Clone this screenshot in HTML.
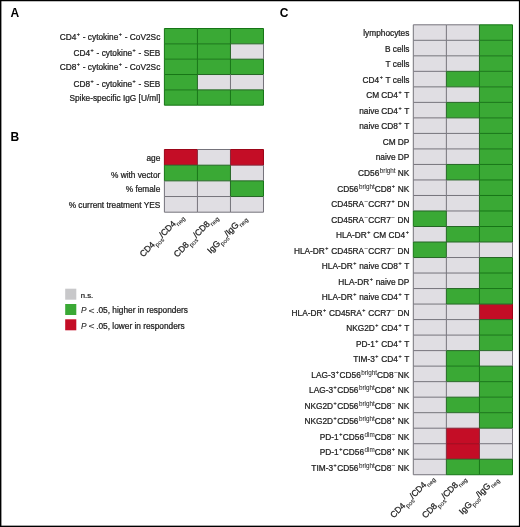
<!DOCTYPE html>
<html><head><meta charset="utf-8"><style>
html,body{margin:0;padding:0;background:#fff;}
body{width:520px;height:527px;overflow:hidden;}
svg{display:block;will-change:transform;}
text{font-family:"Liberation Sans", sans-serif;font-size:8.3px;fill:#1c1c1c;stroke:#1c1c1c;stroke-width:0.24px;}
text.cl{font-size:8.7px;}
text.pl{font-weight:bold;font-size:12px;fill:#000;stroke:none;}
tspan.sup{font-size:6.2px;baseline-shift:2.9px;stroke-width:0.1px;}
tspan.sc{font-size:6.4px;stroke-width:0.15px;}
tspan.sp{font-size:5.4px;letter-spacing:0.55px;stroke-width:0.2px;baseline-shift:3.6px;}
tspan.sw{font-size:6.3px;stroke-width:0.04px;}
tspan.sub{font-size:6.1px;baseline-shift:-3.2px;stroke-width:0.08px;}
line{stroke-width:1;}/*rgba(0,0,0,0.55)*/
</style></head><body>
<svg width="520" height="527" viewBox="0 0 520 527">
<rect x="0" y="0" width="520" height="527" fill="#fff"/>
<rect x="164.40" y="28.50" width="33.03" height="15.34" fill="#3aa935"/>
<rect x="197.43" y="28.50" width="33.03" height="15.34" fill="#3aa935"/>
<rect x="230.46" y="28.50" width="33.03" height="15.34" fill="#3aa935"/>
<text x="160.30" y="39.67" text-anchor="end">CD4<tspan class="sup sp" dx="0.5">+</tspan><tspan class="rs"></tspan> - cytokine<tspan class="sup sp" dx="0.5">+</tspan><tspan class="rs"></tspan> - CoV2Sc</text>
<rect x="164.40" y="43.84" width="33.03" height="15.34" fill="#3aa935"/>
<rect x="197.43" y="43.84" width="33.03" height="15.34" fill="#3aa935"/>
<rect x="230.46" y="43.84" width="33.03" height="15.34" fill="#e0dee3"/>
<text x="160.30" y="56.21" text-anchor="end">CD4<tspan class="sup sp" dx="0.5">+</tspan><tspan class="rs"></tspan> - cytokine<tspan class="sup sp" dx="0.5">+</tspan><tspan class="rs"></tspan> - SEB</text>
<rect x="164.40" y="59.18" width="33.03" height="15.34" fill="#3aa935"/>
<rect x="197.43" y="59.18" width="33.03" height="15.34" fill="#3aa935"/>
<rect x="230.46" y="59.18" width="33.03" height="15.34" fill="#3aa935"/>
<text x="160.30" y="70.45" text-anchor="end">CD8<tspan class="sup sp" dx="0.5">+</tspan><tspan class="rs"></tspan> - cytokine<tspan class="sup sp" dx="0.5">+</tspan><tspan class="rs"></tspan> - CoV2Sc</text>
<rect x="164.40" y="74.52" width="33.03" height="15.34" fill="#3aa935"/>
<rect x="197.43" y="74.52" width="33.03" height="15.34" fill="#e0dee3"/>
<rect x="230.46" y="74.52" width="33.03" height="15.34" fill="#e0dee3"/>
<text x="160.30" y="86.89" text-anchor="end">CD8<tspan class="sup sp" dx="0.5">+</tspan><tspan class="rs"></tspan> - cytokine<tspan class="sup sp" dx="0.5">+</tspan><tspan class="rs"></tspan> - SEB</text>
<rect x="164.40" y="89.86" width="33.03" height="15.34" fill="#3aa935"/>
<rect x="197.43" y="89.86" width="33.03" height="15.34" fill="#3aa935"/>
<rect x="230.46" y="89.86" width="33.03" height="15.34" fill="#3aa935"/>
<text x="160.30" y="101.43" text-anchor="end">Spike-specific IgG [U/ml]</text>
<line x1="164.40" y1="28.50" x2="197.43" y2="28.50" stroke="#167516"/>
<line x1="197.43" y1="28.50" x2="230.46" y2="28.50" stroke="#167516"/>
<line x1="230.46" y1="28.50" x2="263.49" y2="28.50" stroke="#167516"/>
<line x1="164.40" y1="43.84" x2="197.43" y2="43.84" stroke="#167516"/>
<line x1="197.43" y1="43.84" x2="230.46" y2="43.84" stroke="#167516"/>
<line x1="230.46" y1="43.84" x2="263.49" y2="43.84" stroke="#256525"/>
<line x1="164.40" y1="59.18" x2="197.43" y2="59.18" stroke="#167516"/>
<line x1="197.43" y1="59.18" x2="230.46" y2="59.18" stroke="#167516"/>
<line x1="230.46" y1="59.18" x2="263.49" y2="59.18" stroke="#256525"/>
<line x1="164.40" y1="74.52" x2="197.43" y2="74.52" stroke="#167516"/>
<line x1="197.43" y1="74.52" x2="230.46" y2="74.52" stroke="#256525"/>
<line x1="230.46" y1="74.52" x2="263.49" y2="74.52" stroke="#256525"/>
<line x1="164.40" y1="89.86" x2="197.43" y2="89.86" stroke="#167516"/>
<line x1="197.43" y1="89.86" x2="230.46" y2="89.86" stroke="#256525"/>
<line x1="230.46" y1="89.86" x2="263.49" y2="89.86" stroke="#256525"/>
<line x1="164.40" y1="105.20" x2="197.43" y2="105.20" stroke="#167516"/>
<line x1="197.43" y1="105.20" x2="230.46" y2="105.20" stroke="#167516"/>
<line x1="230.46" y1="105.20" x2="263.49" y2="105.20" stroke="#167516"/>
<line x1="164.40" y1="28.50" x2="164.40" y2="43.84" stroke="#167516"/>
<line x1="164.40" y1="43.84" x2="164.40" y2="59.18" stroke="#167516"/>
<line x1="164.40" y1="59.18" x2="164.40" y2="74.52" stroke="#167516"/>
<line x1="164.40" y1="74.52" x2="164.40" y2="89.86" stroke="#167516"/>
<line x1="164.40" y1="89.86" x2="164.40" y2="105.20" stroke="#167516"/>
<line x1="197.43" y1="28.50" x2="197.43" y2="43.84" stroke="#167516"/>
<line x1="197.43" y1="43.84" x2="197.43" y2="59.18" stroke="#167516"/>
<line x1="197.43" y1="59.18" x2="197.43" y2="74.52" stroke="#167516"/>
<line x1="197.43" y1="74.52" x2="197.43" y2="89.86" stroke="#256525"/>
<line x1="197.43" y1="89.86" x2="197.43" y2="105.20" stroke="#167516"/>
<line x1="230.46" y1="28.50" x2="230.46" y2="43.84" stroke="#167516"/>
<line x1="230.46" y1="43.84" x2="230.46" y2="59.18" stroke="#256525"/>
<line x1="230.46" y1="59.18" x2="230.46" y2="74.52" stroke="#167516"/>
<line x1="230.46" y1="74.52" x2="230.46" y2="89.86" stroke="#75737b"/>
<line x1="230.46" y1="89.86" x2="230.46" y2="105.20" stroke="#167516"/>
<line x1="263.49" y1="28.50" x2="263.49" y2="43.84" stroke="#167516"/>
<line x1="263.49" y1="43.84" x2="263.49" y2="59.18" stroke="#75737b"/>
<line x1="263.49" y1="59.18" x2="263.49" y2="74.52" stroke="#167516"/>
<line x1="263.49" y1="74.52" x2="263.49" y2="89.86" stroke="#75737b"/>
<line x1="263.49" y1="89.86" x2="263.49" y2="105.20" stroke="#167516"/>
<rect x="164.40" y="149.50" width="33.03" height="15.68" fill="#c40d26"/>
<rect x="197.43" y="149.50" width="33.03" height="15.68" fill="#e0dee3"/>
<rect x="230.46" y="149.50" width="33.03" height="15.68" fill="#c40d26"/>
<text x="160.30" y="160.64" text-anchor="end">age</text>
<rect x="164.40" y="165.18" width="33.03" height="15.68" fill="#3aa935"/>
<rect x="197.43" y="165.18" width="33.03" height="15.68" fill="#3aa935"/>
<rect x="230.46" y="165.18" width="33.03" height="15.68" fill="#e0dee3"/>
<text x="160.30" y="177.91" text-anchor="end">% with vector</text>
<rect x="164.40" y="180.85" width="33.03" height="15.68" fill="#e0dee3"/>
<rect x="197.43" y="180.85" width="33.03" height="15.68" fill="#e0dee3"/>
<rect x="230.46" y="180.85" width="33.03" height="15.68" fill="#3aa935"/>
<text x="160.30" y="191.99" text-anchor="end">% female</text>
<rect x="164.40" y="196.53" width="33.03" height="15.68" fill="#e0dee3"/>
<rect x="197.43" y="196.53" width="33.03" height="15.68" fill="#e0dee3"/>
<rect x="230.46" y="196.53" width="33.03" height="15.68" fill="#e0dee3"/>
<text x="160.30" y="207.66" text-anchor="end">% current treatment YES</text>
<line x1="164.40" y1="149.50" x2="197.43" y2="149.50" stroke="#9c0418"/>
<line x1="197.43" y1="149.50" x2="230.46" y2="149.50" stroke="#75737b"/>
<line x1="230.46" y1="149.50" x2="263.49" y2="149.50" stroke="#9c0418"/>
<line x1="164.40" y1="165.18" x2="197.43" y2="165.18" stroke="#256525"/>
<line x1="197.43" y1="165.18" x2="230.46" y2="165.18" stroke="#256525"/>
<line x1="230.46" y1="165.18" x2="263.49" y2="165.18" stroke="#85283a"/>
<line x1="164.40" y1="180.85" x2="197.43" y2="180.85" stroke="#256525"/>
<line x1="197.43" y1="180.85" x2="230.46" y2="180.85" stroke="#256525"/>
<line x1="230.46" y1="180.85" x2="263.49" y2="180.85" stroke="#256525"/>
<line x1="164.40" y1="196.53" x2="197.43" y2="196.53" stroke="#75737b"/>
<line x1="197.43" y1="196.53" x2="230.46" y2="196.53" stroke="#75737b"/>
<line x1="230.46" y1="196.53" x2="263.49" y2="196.53" stroke="#256525"/>
<line x1="164.40" y1="212.20" x2="197.43" y2="212.20" stroke="#75737b"/>
<line x1="197.43" y1="212.20" x2="230.46" y2="212.20" stroke="#75737b"/>
<line x1="230.46" y1="212.20" x2="263.49" y2="212.20" stroke="#75737b"/>
<line x1="164.40" y1="149.50" x2="164.40" y2="165.18" stroke="#9c0418"/>
<line x1="164.40" y1="165.18" x2="164.40" y2="180.85" stroke="#167516"/>
<line x1="164.40" y1="180.85" x2="164.40" y2="196.53" stroke="#75737b"/>
<line x1="164.40" y1="196.53" x2="164.40" y2="212.20" stroke="#75737b"/>
<line x1="197.43" y1="149.50" x2="197.43" y2="165.18" stroke="#85283a"/>
<line x1="197.43" y1="165.18" x2="197.43" y2="180.85" stroke="#167516"/>
<line x1="197.43" y1="180.85" x2="197.43" y2="196.53" stroke="#75737b"/>
<line x1="197.43" y1="196.53" x2="197.43" y2="212.20" stroke="#75737b"/>
<line x1="230.46" y1="149.50" x2="230.46" y2="165.18" stroke="#85283a"/>
<line x1="230.46" y1="165.18" x2="230.46" y2="180.85" stroke="#256525"/>
<line x1="230.46" y1="180.85" x2="230.46" y2="196.53" stroke="#256525"/>
<line x1="230.46" y1="196.53" x2="230.46" y2="212.20" stroke="#75737b"/>
<line x1="263.49" y1="149.50" x2="263.49" y2="165.18" stroke="#9c0418"/>
<line x1="263.49" y1="165.18" x2="263.49" y2="180.85" stroke="#75737b"/>
<line x1="263.49" y1="180.85" x2="263.49" y2="196.53" stroke="#167516"/>
<line x1="263.49" y1="196.53" x2="263.49" y2="212.20" stroke="#75737b"/>
<rect x="413.30" y="24.80" width="33.07" height="15.52" fill="#e0dee3"/>
<rect x="446.37" y="24.80" width="33.07" height="15.52" fill="#e0dee3"/>
<rect x="479.44" y="24.80" width="33.07" height="15.52" fill="#3aa935"/>
<text x="409.40" y="36.36" text-anchor="end">lymphocytes</text>
<rect x="413.30" y="40.31" width="33.07" height="15.52" fill="#e0dee3"/>
<rect x="446.37" y="40.31" width="33.07" height="15.52" fill="#e0dee3"/>
<rect x="479.44" y="40.31" width="33.07" height="15.52" fill="#3aa935"/>
<text x="409.40" y="51.87" text-anchor="end">B cells</text>
<rect x="413.30" y="55.83" width="33.07" height="15.52" fill="#e0dee3"/>
<rect x="446.37" y="55.83" width="33.07" height="15.52" fill="#e0dee3"/>
<rect x="479.44" y="55.83" width="33.07" height="15.52" fill="#3aa935"/>
<text x="409.40" y="67.39" text-anchor="end">T cells</text>
<rect x="413.30" y="71.34" width="33.07" height="15.52" fill="#e0dee3"/>
<rect x="446.37" y="71.34" width="33.07" height="15.52" fill="#3aa935"/>
<rect x="479.44" y="71.34" width="33.07" height="15.52" fill="#3aa935"/>
<text x="409.40" y="82.90" text-anchor="end">CD4<tspan class="sup sp" dx="0.5">+</tspan><tspan class="rs"></tspan> T cells</text>
<rect x="413.30" y="86.86" width="33.07" height="15.52" fill="#e0dee3"/>
<rect x="446.37" y="86.86" width="33.07" height="15.52" fill="#e0dee3"/>
<rect x="479.44" y="86.86" width="33.07" height="15.52" fill="#3aa935"/>
<text x="409.40" y="98.42" text-anchor="end">CM CD4<tspan class="sup sp" dx="0.5">+</tspan><tspan class="rs"></tspan> T</text>
<rect x="413.30" y="102.38" width="33.07" height="15.52" fill="#e0dee3"/>
<rect x="446.37" y="102.38" width="33.07" height="15.52" fill="#3aa935"/>
<rect x="479.44" y="102.38" width="33.07" height="15.52" fill="#3aa935"/>
<text x="409.40" y="113.93" text-anchor="end">naive CD4<tspan class="sup sp" dx="0.5">+</tspan><tspan class="rs"></tspan> T</text>
<rect x="413.30" y="117.89" width="33.07" height="15.52" fill="#e0dee3"/>
<rect x="446.37" y="117.89" width="33.07" height="15.52" fill="#e0dee3"/>
<rect x="479.44" y="117.89" width="33.07" height="15.52" fill="#3aa935"/>
<text x="409.40" y="129.45" text-anchor="end">naive CD8<tspan class="sup sp" dx="0.5">+</tspan><tspan class="rs"></tspan> T</text>
<rect x="413.30" y="133.41" width="33.07" height="15.52" fill="#e0dee3"/>
<rect x="446.37" y="133.41" width="33.07" height="15.52" fill="#e0dee3"/>
<rect x="479.44" y="133.41" width="33.07" height="15.52" fill="#3aa935"/>
<text x="409.40" y="144.96" text-anchor="end">CM DP</text>
<rect x="413.30" y="148.92" width="33.07" height="15.52" fill="#e0dee3"/>
<rect x="446.37" y="148.92" width="33.07" height="15.52" fill="#e0dee3"/>
<rect x="479.44" y="148.92" width="33.07" height="15.52" fill="#3aa935"/>
<text x="409.40" y="160.48" text-anchor="end">naive DP</text>
<rect x="413.30" y="164.44" width="33.07" height="15.52" fill="#e0dee3"/>
<rect x="446.37" y="164.44" width="33.07" height="15.52" fill="#3aa935"/>
<rect x="479.44" y="164.44" width="33.07" height="15.52" fill="#3aa935"/>
<text x="409.40" y="175.99" text-anchor="end">CD56<tspan class="sup sw" dx="0.5">bright</tspan><tspan class="rs"></tspan> NK</text>
<rect x="413.30" y="179.95" width="33.07" height="15.52" fill="#e0dee3"/>
<rect x="446.37" y="179.95" width="33.07" height="15.52" fill="#e0dee3"/>
<rect x="479.44" y="179.95" width="33.07" height="15.52" fill="#3aa935"/>
<text x="409.40" y="191.51" text-anchor="end">CD56<tspan class="sup sw" dx="0.5">bright</tspan><tspan class="rs"></tspan>CD8<tspan class="sup sp" dx="0.5">+</tspan><tspan class="rs"></tspan> NK</text>
<rect x="413.30" y="195.47" width="33.07" height="15.52" fill="#e0dee3"/>
<rect x="446.37" y="195.47" width="33.07" height="15.52" fill="#e0dee3"/>
<rect x="479.44" y="195.47" width="33.07" height="15.52" fill="#3aa935"/>
<text x="409.40" y="207.02" text-anchor="end">CD45RA<tspan class="sup sc" dx="0.5">−</tspan><tspan class="rs"></tspan>CCR7<tspan class="sup sp" dx="0.5">+</tspan><tspan class="rs"></tspan> DN</text>
<rect x="413.30" y="210.98" width="33.07" height="15.52" fill="#3aa935"/>
<rect x="446.37" y="210.98" width="33.07" height="15.52" fill="#e0dee3"/>
<rect x="479.44" y="210.98" width="33.07" height="15.52" fill="#3aa935"/>
<text x="409.40" y="222.54" text-anchor="end">CD45RA<tspan class="sup sc" dx="0.5">−</tspan><tspan class="rs"></tspan>CCR7<tspan class="sup sc" dx="0.5">−</tspan><tspan class="rs"></tspan> DN</text>
<rect x="413.30" y="226.50" width="33.07" height="15.52" fill="#e0dee3"/>
<rect x="446.37" y="226.50" width="33.07" height="15.52" fill="#3aa935"/>
<rect x="479.44" y="226.50" width="33.07" height="15.52" fill="#3aa935"/>
<text x="409.40" y="238.05" text-anchor="end">HLA-DR<tspan class="sup sp" dx="0.5">+</tspan><tspan class="rs"></tspan> CM CD4<tspan class="sup sp" dx="0.5">+</tspan><tspan class="rs"></tspan></text>
<rect x="413.30" y="242.01" width="33.07" height="15.52" fill="#3aa935"/>
<rect x="446.37" y="242.01" width="33.07" height="15.52" fill="#e0dee3"/>
<rect x="479.44" y="242.01" width="33.07" height="15.52" fill="#e0dee3"/>
<text x="409.40" y="253.57" text-anchor="end">HLA-DR<tspan class="sup sp" dx="0.5">+</tspan><tspan class="rs"></tspan> CD45RA<tspan class="sup sc" dx="0.5">−</tspan><tspan class="rs"></tspan>CCR7<tspan class="sup sc" dx="0.5">−</tspan><tspan class="rs"></tspan> DN</text>
<rect x="413.30" y="257.53" width="33.07" height="15.52" fill="#e0dee3"/>
<rect x="446.37" y="257.53" width="33.07" height="15.52" fill="#e0dee3"/>
<rect x="479.44" y="257.53" width="33.07" height="15.52" fill="#3aa935"/>
<text x="409.40" y="269.08" text-anchor="end">HLA-DR<tspan class="sup sp" dx="0.5">+</tspan><tspan class="rs"></tspan> naive CD8<tspan class="sup sp" dx="0.5">+</tspan><tspan class="rs"></tspan> T</text>
<rect x="413.30" y="273.04" width="33.07" height="15.52" fill="#e0dee3"/>
<rect x="446.37" y="273.04" width="33.07" height="15.52" fill="#e0dee3"/>
<rect x="479.44" y="273.04" width="33.07" height="15.52" fill="#3aa935"/>
<text x="409.40" y="284.60" text-anchor="end">HLA-DR<tspan class="sup sp" dx="0.5">+</tspan><tspan class="rs"></tspan> naive DP</text>
<rect x="413.30" y="288.56" width="33.07" height="15.52" fill="#e0dee3"/>
<rect x="446.37" y="288.56" width="33.07" height="15.52" fill="#3aa935"/>
<rect x="479.44" y="288.56" width="33.07" height="15.52" fill="#3aa935"/>
<text x="409.40" y="300.11" text-anchor="end">HLA-DR<tspan class="sup sp" dx="0.5">+</tspan><tspan class="rs"></tspan> naive CD4<tspan class="sup sp" dx="0.5">+</tspan><tspan class="rs"></tspan> T</text>
<rect x="413.30" y="304.07" width="33.07" height="15.52" fill="#e0dee3"/>
<rect x="446.37" y="304.07" width="33.07" height="15.52" fill="#e0dee3"/>
<rect x="479.44" y="304.07" width="33.07" height="15.52" fill="#c40d26"/>
<text x="409.40" y="315.63" text-anchor="end">HLA-DR<tspan class="sup sp" dx="0.5">+</tspan><tspan class="rs"></tspan> CD45RA<tspan class="sup sp" dx="0.5">+</tspan><tspan class="rs"></tspan> CCR7<tspan class="sup sc" dx="0.5">−</tspan><tspan class="rs"></tspan> DN</text>
<rect x="413.30" y="319.59" width="33.07" height="15.52" fill="#e0dee3"/>
<rect x="446.37" y="319.59" width="33.07" height="15.52" fill="#e0dee3"/>
<rect x="479.44" y="319.59" width="33.07" height="15.52" fill="#3aa935"/>
<text x="409.40" y="331.14" text-anchor="end">NKG2D<tspan class="sup sp" dx="0.5">+</tspan><tspan class="rs"></tspan> CD4<tspan class="sup sp" dx="0.5">+</tspan><tspan class="rs"></tspan> T</text>
<rect x="413.30" y="335.10" width="33.07" height="15.52" fill="#e0dee3"/>
<rect x="446.37" y="335.10" width="33.07" height="15.52" fill="#e0dee3"/>
<rect x="479.44" y="335.10" width="33.07" height="15.52" fill="#3aa935"/>
<text x="409.40" y="346.66" text-anchor="end">PD-1<tspan class="sup sp" dx="0.5">+</tspan><tspan class="rs"></tspan> CD4<tspan class="sup sp" dx="0.5">+</tspan><tspan class="rs"></tspan> T</text>
<rect x="413.30" y="350.62" width="33.07" height="15.52" fill="#e0dee3"/>
<rect x="446.37" y="350.62" width="33.07" height="15.52" fill="#3aa935"/>
<rect x="479.44" y="350.62" width="33.07" height="15.52" fill="#e0dee3"/>
<text x="409.40" y="362.17" text-anchor="end">TIM-3<tspan class="sup sp" dx="0.5">+</tspan><tspan class="rs"></tspan> CD4<tspan class="sup sp" dx="0.5">+</tspan><tspan class="rs"></tspan> T</text>
<rect x="413.30" y="366.13" width="33.07" height="15.52" fill="#e0dee3"/>
<rect x="446.37" y="366.13" width="33.07" height="15.52" fill="#3aa935"/>
<rect x="479.44" y="366.13" width="33.07" height="15.52" fill="#3aa935"/>
<text x="409.40" y="377.69" text-anchor="end">LAG-3<tspan class="sup sp" dx="0.5">+</tspan><tspan class="rs"></tspan>CD56<tspan class="sup sw" dx="0.5">bright</tspan><tspan class="rs"></tspan>CD8<tspan class="sup sc" dx="0.5">−</tspan><tspan class="rs"></tspan>NK</text>
<rect x="413.30" y="381.65" width="33.07" height="15.52" fill="#e0dee3"/>
<rect x="446.37" y="381.65" width="33.07" height="15.52" fill="#e0dee3"/>
<rect x="479.44" y="381.65" width="33.07" height="15.52" fill="#3aa935"/>
<text x="409.40" y="393.20" text-anchor="end">LAG-3<tspan class="sup sp" dx="0.5">+</tspan><tspan class="rs"></tspan>CD56<tspan class="sup sw" dx="0.5">bright</tspan><tspan class="rs"></tspan>CD8<tspan class="sup sp" dx="0.5">+</tspan><tspan class="rs"></tspan> NK</text>
<rect x="413.30" y="397.16" width="33.07" height="15.52" fill="#e0dee3"/>
<rect x="446.37" y="397.16" width="33.07" height="15.52" fill="#3aa935"/>
<rect x="479.44" y="397.16" width="33.07" height="15.52" fill="#3aa935"/>
<text x="409.40" y="408.72" text-anchor="end">NKG2D<tspan class="sup sp" dx="0.5">+</tspan><tspan class="rs"></tspan>CD56<tspan class="sup sw" dx="0.5">bright</tspan><tspan class="rs"></tspan>CD8<tspan class="sup sc" dx="0.5">−</tspan><tspan class="rs"></tspan> NK</text>
<rect x="413.30" y="412.68" width="33.07" height="15.52" fill="#e0dee3"/>
<rect x="446.37" y="412.68" width="33.07" height="15.52" fill="#e0dee3"/>
<rect x="479.44" y="412.68" width="33.07" height="15.52" fill="#3aa935"/>
<text x="409.40" y="424.23" text-anchor="end">NKG2D<tspan class="sup sp" dx="0.5">+</tspan><tspan class="rs"></tspan>CD56<tspan class="sup sw" dx="0.5">bright</tspan><tspan class="rs"></tspan>CD8<tspan class="sup sp" dx="0.5">+</tspan><tspan class="rs"></tspan> NK</text>
<rect x="413.30" y="428.19" width="33.07" height="15.52" fill="#e0dee3"/>
<rect x="446.37" y="428.19" width="33.07" height="15.52" fill="#c40d26"/>
<rect x="479.44" y="428.19" width="33.07" height="15.52" fill="#e0dee3"/>
<text x="409.40" y="439.75" text-anchor="end">PD-1<tspan class="sup sp" dx="0.5">+</tspan><tspan class="rs"></tspan>CD56<tspan class="sup sw" dx="0.5">dim</tspan><tspan class="rs"></tspan>CD8<tspan class="sup sc" dx="0.5">−</tspan><tspan class="rs"></tspan> NK</text>
<rect x="413.30" y="443.71" width="33.07" height="15.52" fill="#e0dee3"/>
<rect x="446.37" y="443.71" width="33.07" height="15.52" fill="#c40d26"/>
<rect x="479.44" y="443.71" width="33.07" height="15.52" fill="#e0dee3"/>
<text x="409.40" y="455.26" text-anchor="end">PD-1<tspan class="sup sp" dx="0.5">+</tspan><tspan class="rs"></tspan>CD56<tspan class="sup sw" dx="0.5">dim</tspan><tspan class="rs"></tspan>CD8<tspan class="sup sp" dx="0.5">+</tspan><tspan class="rs"></tspan> NK</text>
<rect x="413.30" y="459.22" width="33.07" height="15.52" fill="#e0dee3"/>
<rect x="446.37" y="459.22" width="33.07" height="15.52" fill="#3aa935"/>
<rect x="479.44" y="459.22" width="33.07" height="15.52" fill="#3aa935"/>
<text x="409.40" y="470.78" text-anchor="end">TIM-3<tspan class="sup sp" dx="0.5">+</tspan><tspan class="rs"></tspan>CD56<tspan class="sup sw" dx="0.5">bright</tspan><tspan class="rs"></tspan>CD8<tspan class="sup sc" dx="0.5">−</tspan><tspan class="rs"></tspan> NK</text>
<line x1="413.30" y1="24.80" x2="446.37" y2="24.80" stroke="#75737b"/>
<line x1="446.37" y1="24.80" x2="479.44" y2="24.80" stroke="#75737b"/>
<line x1="479.44" y1="24.80" x2="512.51" y2="24.80" stroke="#167516"/>
<line x1="413.30" y1="40.31" x2="446.37" y2="40.31" stroke="#75737b"/>
<line x1="446.37" y1="40.31" x2="479.44" y2="40.31" stroke="#75737b"/>
<line x1="479.44" y1="40.31" x2="512.51" y2="40.31" stroke="#167516"/>
<line x1="413.30" y1="55.83" x2="446.37" y2="55.83" stroke="#75737b"/>
<line x1="446.37" y1="55.83" x2="479.44" y2="55.83" stroke="#75737b"/>
<line x1="479.44" y1="55.83" x2="512.51" y2="55.83" stroke="#167516"/>
<line x1="413.30" y1="71.34" x2="446.37" y2="71.34" stroke="#75737b"/>
<line x1="446.37" y1="71.34" x2="479.44" y2="71.34" stroke="#256525"/>
<line x1="479.44" y1="71.34" x2="512.51" y2="71.34" stroke="#167516"/>
<line x1="413.30" y1="86.86" x2="446.37" y2="86.86" stroke="#75737b"/>
<line x1="446.37" y1="86.86" x2="479.44" y2="86.86" stroke="#256525"/>
<line x1="479.44" y1="86.86" x2="512.51" y2="86.86" stroke="#167516"/>
<line x1="413.30" y1="102.38" x2="446.37" y2="102.38" stroke="#75737b"/>
<line x1="446.37" y1="102.38" x2="479.44" y2="102.38" stroke="#256525"/>
<line x1="479.44" y1="102.38" x2="512.51" y2="102.38" stroke="#167516"/>
<line x1="413.30" y1="117.89" x2="446.37" y2="117.89" stroke="#75737b"/>
<line x1="446.37" y1="117.89" x2="479.44" y2="117.89" stroke="#256525"/>
<line x1="479.44" y1="117.89" x2="512.51" y2="117.89" stroke="#167516"/>
<line x1="413.30" y1="133.41" x2="446.37" y2="133.41" stroke="#75737b"/>
<line x1="446.37" y1="133.41" x2="479.44" y2="133.41" stroke="#75737b"/>
<line x1="479.44" y1="133.41" x2="512.51" y2="133.41" stroke="#167516"/>
<line x1="413.30" y1="148.92" x2="446.37" y2="148.92" stroke="#75737b"/>
<line x1="446.37" y1="148.92" x2="479.44" y2="148.92" stroke="#75737b"/>
<line x1="479.44" y1="148.92" x2="512.51" y2="148.92" stroke="#167516"/>
<line x1="413.30" y1="164.44" x2="446.37" y2="164.44" stroke="#75737b"/>
<line x1="446.37" y1="164.44" x2="479.44" y2="164.44" stroke="#256525"/>
<line x1="479.44" y1="164.44" x2="512.51" y2="164.44" stroke="#167516"/>
<line x1="413.30" y1="179.95" x2="446.37" y2="179.95" stroke="#75737b"/>
<line x1="446.37" y1="179.95" x2="479.44" y2="179.95" stroke="#256525"/>
<line x1="479.44" y1="179.95" x2="512.51" y2="179.95" stroke="#167516"/>
<line x1="413.30" y1="195.47" x2="446.37" y2="195.47" stroke="#75737b"/>
<line x1="446.37" y1="195.47" x2="479.44" y2="195.47" stroke="#75737b"/>
<line x1="479.44" y1="195.47" x2="512.51" y2="195.47" stroke="#167516"/>
<line x1="413.30" y1="210.98" x2="446.37" y2="210.98" stroke="#256525"/>
<line x1="446.37" y1="210.98" x2="479.44" y2="210.98" stroke="#75737b"/>
<line x1="479.44" y1="210.98" x2="512.51" y2="210.98" stroke="#167516"/>
<line x1="413.30" y1="226.50" x2="446.37" y2="226.50" stroke="#256525"/>
<line x1="446.37" y1="226.50" x2="479.44" y2="226.50" stroke="#256525"/>
<line x1="479.44" y1="226.50" x2="512.51" y2="226.50" stroke="#167516"/>
<line x1="413.30" y1="242.01" x2="446.37" y2="242.01" stroke="#256525"/>
<line x1="446.37" y1="242.01" x2="479.44" y2="242.01" stroke="#256525"/>
<line x1="479.44" y1="242.01" x2="512.51" y2="242.01" stroke="#256525"/>
<line x1="413.30" y1="257.53" x2="446.37" y2="257.53" stroke="#256525"/>
<line x1="446.37" y1="257.53" x2="479.44" y2="257.53" stroke="#75737b"/>
<line x1="479.44" y1="257.53" x2="512.51" y2="257.53" stroke="#256525"/>
<line x1="413.30" y1="273.04" x2="446.37" y2="273.04" stroke="#75737b"/>
<line x1="446.37" y1="273.04" x2="479.44" y2="273.04" stroke="#75737b"/>
<line x1="479.44" y1="273.04" x2="512.51" y2="273.04" stroke="#167516"/>
<line x1="413.30" y1="288.56" x2="446.37" y2="288.56" stroke="#75737b"/>
<line x1="446.37" y1="288.56" x2="479.44" y2="288.56" stroke="#256525"/>
<line x1="479.44" y1="288.56" x2="512.51" y2="288.56" stroke="#167516"/>
<line x1="413.30" y1="304.07" x2="446.37" y2="304.07" stroke="#75737b"/>
<line x1="446.37" y1="304.07" x2="479.44" y2="304.07" stroke="#256525"/>
<line x1="479.44" y1="304.07" x2="512.51" y2="304.07" stroke="#256525"/>
<line x1="413.30" y1="319.59" x2="446.37" y2="319.59" stroke="#75737b"/>
<line x1="446.37" y1="319.59" x2="479.44" y2="319.59" stroke="#75737b"/>
<line x1="479.44" y1="319.59" x2="512.51" y2="319.59" stroke="#256525"/>
<line x1="413.30" y1="335.10" x2="446.37" y2="335.10" stroke="#75737b"/>
<line x1="446.37" y1="335.10" x2="479.44" y2="335.10" stroke="#75737b"/>
<line x1="479.44" y1="335.10" x2="512.51" y2="335.10" stroke="#167516"/>
<line x1="413.30" y1="350.62" x2="446.37" y2="350.62" stroke="#75737b"/>
<line x1="446.37" y1="350.62" x2="479.44" y2="350.62" stroke="#256525"/>
<line x1="479.44" y1="350.62" x2="512.51" y2="350.62" stroke="#256525"/>
<line x1="413.30" y1="366.13" x2="446.37" y2="366.13" stroke="#75737b"/>
<line x1="446.37" y1="366.13" x2="479.44" y2="366.13" stroke="#167516"/>
<line x1="479.44" y1="366.13" x2="512.51" y2="366.13" stroke="#256525"/>
<line x1="413.30" y1="381.65" x2="446.37" y2="381.65" stroke="#75737b"/>
<line x1="446.37" y1="381.65" x2="479.44" y2="381.65" stroke="#256525"/>
<line x1="479.44" y1="381.65" x2="512.51" y2="381.65" stroke="#167516"/>
<line x1="413.30" y1="397.16" x2="446.37" y2="397.16" stroke="#75737b"/>
<line x1="446.37" y1="397.16" x2="479.44" y2="397.16" stroke="#256525"/>
<line x1="479.44" y1="397.16" x2="512.51" y2="397.16" stroke="#167516"/>
<line x1="413.30" y1="412.68" x2="446.37" y2="412.68" stroke="#75737b"/>
<line x1="446.37" y1="412.68" x2="479.44" y2="412.68" stroke="#256525"/>
<line x1="479.44" y1="412.68" x2="512.51" y2="412.68" stroke="#167516"/>
<line x1="413.30" y1="428.19" x2="446.37" y2="428.19" stroke="#75737b"/>
<line x1="446.37" y1="428.19" x2="479.44" y2="428.19" stroke="#85283a"/>
<line x1="479.44" y1="428.19" x2="512.51" y2="428.19" stroke="#256525"/>
<line x1="413.30" y1="443.71" x2="446.37" y2="443.71" stroke="#75737b"/>
<line x1="446.37" y1="443.71" x2="479.44" y2="443.71" stroke="#9c0418"/>
<line x1="479.44" y1="443.71" x2="512.51" y2="443.71" stroke="#75737b"/>
<line x1="413.30" y1="459.22" x2="446.37" y2="459.22" stroke="#75737b"/>
<line x1="446.37" y1="459.22" x2="479.44" y2="459.22" stroke="#256525"/>
<line x1="479.44" y1="459.22" x2="512.51" y2="459.22" stroke="#256525"/>
<line x1="413.30" y1="474.74" x2="446.37" y2="474.74" stroke="#75737b"/>
<line x1="446.37" y1="474.74" x2="479.44" y2="474.74" stroke="#167516"/>
<line x1="479.44" y1="474.74" x2="512.51" y2="474.74" stroke="#167516"/>
<line x1="413.30" y1="24.80" x2="413.30" y2="40.31" stroke="#75737b"/>
<line x1="413.30" y1="40.31" x2="413.30" y2="55.83" stroke="#75737b"/>
<line x1="413.30" y1="55.83" x2="413.30" y2="71.34" stroke="#75737b"/>
<line x1="413.30" y1="71.34" x2="413.30" y2="86.86" stroke="#75737b"/>
<line x1="413.30" y1="86.86" x2="413.30" y2="102.38" stroke="#75737b"/>
<line x1="413.30" y1="102.38" x2="413.30" y2="117.89" stroke="#75737b"/>
<line x1="413.30" y1="117.89" x2="413.30" y2="133.41" stroke="#75737b"/>
<line x1="413.30" y1="133.41" x2="413.30" y2="148.92" stroke="#75737b"/>
<line x1="413.30" y1="148.92" x2="413.30" y2="164.44" stroke="#75737b"/>
<line x1="413.30" y1="164.44" x2="413.30" y2="179.95" stroke="#75737b"/>
<line x1="413.30" y1="179.95" x2="413.30" y2="195.47" stroke="#75737b"/>
<line x1="413.30" y1="195.47" x2="413.30" y2="210.98" stroke="#75737b"/>
<line x1="413.30" y1="210.98" x2="413.30" y2="226.50" stroke="#167516"/>
<line x1="413.30" y1="226.50" x2="413.30" y2="242.01" stroke="#75737b"/>
<line x1="413.30" y1="242.01" x2="413.30" y2="257.53" stroke="#167516"/>
<line x1="413.30" y1="257.53" x2="413.30" y2="273.04" stroke="#75737b"/>
<line x1="413.30" y1="273.04" x2="413.30" y2="288.56" stroke="#75737b"/>
<line x1="413.30" y1="288.56" x2="413.30" y2="304.07" stroke="#75737b"/>
<line x1="413.30" y1="304.07" x2="413.30" y2="319.59" stroke="#75737b"/>
<line x1="413.30" y1="319.59" x2="413.30" y2="335.10" stroke="#75737b"/>
<line x1="413.30" y1="335.10" x2="413.30" y2="350.62" stroke="#75737b"/>
<line x1="413.30" y1="350.62" x2="413.30" y2="366.13" stroke="#75737b"/>
<line x1="413.30" y1="366.13" x2="413.30" y2="381.65" stroke="#75737b"/>
<line x1="413.30" y1="381.65" x2="413.30" y2="397.16" stroke="#75737b"/>
<line x1="413.30" y1="397.16" x2="413.30" y2="412.68" stroke="#75737b"/>
<line x1="413.30" y1="412.68" x2="413.30" y2="428.19" stroke="#75737b"/>
<line x1="413.30" y1="428.19" x2="413.30" y2="443.71" stroke="#75737b"/>
<line x1="413.30" y1="443.71" x2="413.30" y2="459.22" stroke="#75737b"/>
<line x1="413.30" y1="459.22" x2="413.30" y2="474.74" stroke="#75737b"/>
<line x1="446.37" y1="24.80" x2="446.37" y2="40.31" stroke="#75737b"/>
<line x1="446.37" y1="40.31" x2="446.37" y2="55.83" stroke="#75737b"/>
<line x1="446.37" y1="55.83" x2="446.37" y2="71.34" stroke="#75737b"/>
<line x1="446.37" y1="71.34" x2="446.37" y2="86.86" stroke="#256525"/>
<line x1="446.37" y1="86.86" x2="446.37" y2="102.38" stroke="#75737b"/>
<line x1="446.37" y1="102.38" x2="446.37" y2="117.89" stroke="#256525"/>
<line x1="446.37" y1="117.89" x2="446.37" y2="133.41" stroke="#75737b"/>
<line x1="446.37" y1="133.41" x2="446.37" y2="148.92" stroke="#75737b"/>
<line x1="446.37" y1="148.92" x2="446.37" y2="164.44" stroke="#75737b"/>
<line x1="446.37" y1="164.44" x2="446.37" y2="179.95" stroke="#256525"/>
<line x1="446.37" y1="179.95" x2="446.37" y2="195.47" stroke="#75737b"/>
<line x1="446.37" y1="195.47" x2="446.37" y2="210.98" stroke="#75737b"/>
<line x1="446.37" y1="210.98" x2="446.37" y2="226.50" stroke="#256525"/>
<line x1="446.37" y1="226.50" x2="446.37" y2="242.01" stroke="#256525"/>
<line x1="446.37" y1="242.01" x2="446.37" y2="257.53" stroke="#256525"/>
<line x1="446.37" y1="257.53" x2="446.37" y2="273.04" stroke="#75737b"/>
<line x1="446.37" y1="273.04" x2="446.37" y2="288.56" stroke="#75737b"/>
<line x1="446.37" y1="288.56" x2="446.37" y2="304.07" stroke="#256525"/>
<line x1="446.37" y1="304.07" x2="446.37" y2="319.59" stroke="#75737b"/>
<line x1="446.37" y1="319.59" x2="446.37" y2="335.10" stroke="#75737b"/>
<line x1="446.37" y1="335.10" x2="446.37" y2="350.62" stroke="#75737b"/>
<line x1="446.37" y1="350.62" x2="446.37" y2="366.13" stroke="#256525"/>
<line x1="446.37" y1="366.13" x2="446.37" y2="381.65" stroke="#256525"/>
<line x1="446.37" y1="381.65" x2="446.37" y2="397.16" stroke="#75737b"/>
<line x1="446.37" y1="397.16" x2="446.37" y2="412.68" stroke="#256525"/>
<line x1="446.37" y1="412.68" x2="446.37" y2="428.19" stroke="#75737b"/>
<line x1="446.37" y1="428.19" x2="446.37" y2="443.71" stroke="#85283a"/>
<line x1="446.37" y1="443.71" x2="446.37" y2="459.22" stroke="#85283a"/>
<line x1="446.37" y1="459.22" x2="446.37" y2="474.74" stroke="#256525"/>
<line x1="479.44" y1="24.80" x2="479.44" y2="40.31" stroke="#256525"/>
<line x1="479.44" y1="40.31" x2="479.44" y2="55.83" stroke="#256525"/>
<line x1="479.44" y1="55.83" x2="479.44" y2="71.34" stroke="#256525"/>
<line x1="479.44" y1="71.34" x2="479.44" y2="86.86" stroke="#167516"/>
<line x1="479.44" y1="86.86" x2="479.44" y2="102.38" stroke="#256525"/>
<line x1="479.44" y1="102.38" x2="479.44" y2="117.89" stroke="#167516"/>
<line x1="479.44" y1="117.89" x2="479.44" y2="133.41" stroke="#256525"/>
<line x1="479.44" y1="133.41" x2="479.44" y2="148.92" stroke="#256525"/>
<line x1="479.44" y1="148.92" x2="479.44" y2="164.44" stroke="#256525"/>
<line x1="479.44" y1="164.44" x2="479.44" y2="179.95" stroke="#167516"/>
<line x1="479.44" y1="179.95" x2="479.44" y2="195.47" stroke="#256525"/>
<line x1="479.44" y1="195.47" x2="479.44" y2="210.98" stroke="#256525"/>
<line x1="479.44" y1="210.98" x2="479.44" y2="226.50" stroke="#256525"/>
<line x1="479.44" y1="226.50" x2="479.44" y2="242.01" stroke="#167516"/>
<line x1="479.44" y1="242.01" x2="479.44" y2="257.53" stroke="#75737b"/>
<line x1="479.44" y1="257.53" x2="479.44" y2="273.04" stroke="#256525"/>
<line x1="479.44" y1="273.04" x2="479.44" y2="288.56" stroke="#256525"/>
<line x1="479.44" y1="288.56" x2="479.44" y2="304.07" stroke="#167516"/>
<line x1="479.44" y1="304.07" x2="479.44" y2="319.59" stroke="#85283a"/>
<line x1="479.44" y1="319.59" x2="479.44" y2="335.10" stroke="#256525"/>
<line x1="479.44" y1="335.10" x2="479.44" y2="350.62" stroke="#256525"/>
<line x1="479.44" y1="350.62" x2="479.44" y2="366.13" stroke="#256525"/>
<line x1="479.44" y1="366.13" x2="479.44" y2="381.65" stroke="#167516"/>
<line x1="479.44" y1="381.65" x2="479.44" y2="397.16" stroke="#256525"/>
<line x1="479.44" y1="397.16" x2="479.44" y2="412.68" stroke="#167516"/>
<line x1="479.44" y1="412.68" x2="479.44" y2="428.19" stroke="#256525"/>
<line x1="479.44" y1="428.19" x2="479.44" y2="443.71" stroke="#85283a"/>
<line x1="479.44" y1="443.71" x2="479.44" y2="459.22" stroke="#85283a"/>
<line x1="479.44" y1="459.22" x2="479.44" y2="474.74" stroke="#167516"/>
<line x1="512.51" y1="24.80" x2="512.51" y2="40.31" stroke="#167516"/>
<line x1="512.51" y1="40.31" x2="512.51" y2="55.83" stroke="#167516"/>
<line x1="512.51" y1="55.83" x2="512.51" y2="71.34" stroke="#167516"/>
<line x1="512.51" y1="71.34" x2="512.51" y2="86.86" stroke="#167516"/>
<line x1="512.51" y1="86.86" x2="512.51" y2="102.38" stroke="#167516"/>
<line x1="512.51" y1="102.38" x2="512.51" y2="117.89" stroke="#167516"/>
<line x1="512.51" y1="117.89" x2="512.51" y2="133.41" stroke="#167516"/>
<line x1="512.51" y1="133.41" x2="512.51" y2="148.92" stroke="#167516"/>
<line x1="512.51" y1="148.92" x2="512.51" y2="164.44" stroke="#167516"/>
<line x1="512.51" y1="164.44" x2="512.51" y2="179.95" stroke="#167516"/>
<line x1="512.51" y1="179.95" x2="512.51" y2="195.47" stroke="#167516"/>
<line x1="512.51" y1="195.47" x2="512.51" y2="210.98" stroke="#167516"/>
<line x1="512.51" y1="210.98" x2="512.51" y2="226.50" stroke="#167516"/>
<line x1="512.51" y1="226.50" x2="512.51" y2="242.01" stroke="#167516"/>
<line x1="512.51" y1="242.01" x2="512.51" y2="257.53" stroke="#75737b"/>
<line x1="512.51" y1="257.53" x2="512.51" y2="273.04" stroke="#167516"/>
<line x1="512.51" y1="273.04" x2="512.51" y2="288.56" stroke="#167516"/>
<line x1="512.51" y1="288.56" x2="512.51" y2="304.07" stroke="#167516"/>
<line x1="512.51" y1="304.07" x2="512.51" y2="319.59" stroke="#9c0418"/>
<line x1="512.51" y1="319.59" x2="512.51" y2="335.10" stroke="#167516"/>
<line x1="512.51" y1="335.10" x2="512.51" y2="350.62" stroke="#167516"/>
<line x1="512.51" y1="350.62" x2="512.51" y2="366.13" stroke="#75737b"/>
<line x1="512.51" y1="366.13" x2="512.51" y2="381.65" stroke="#167516"/>
<line x1="512.51" y1="381.65" x2="512.51" y2="397.16" stroke="#167516"/>
<line x1="512.51" y1="397.16" x2="512.51" y2="412.68" stroke="#167516"/>
<line x1="512.51" y1="412.68" x2="512.51" y2="428.19" stroke="#167516"/>
<line x1="512.51" y1="428.19" x2="512.51" y2="443.71" stroke="#75737b"/>
<line x1="512.51" y1="443.71" x2="512.51" y2="459.22" stroke="#75737b"/>
<line x1="512.51" y1="459.22" x2="512.51" y2="474.74" stroke="#167516"/>
<text class="cl" transform="translate(163.40 237.30) rotate(-45)" text-anchor="middle">CD4<tspan class="sub">pos</tspan><tspan class="rs"></tspan>/CD4<tspan class="sub">neg</tspan></text>
<text class="cl" transform="translate(197.43 237.50) rotate(-45)" text-anchor="middle">CD8<tspan class="sub">pos</tspan><tspan class="rs"></tspan>/CD8<tspan class="sub">neg</tspan></text>
<text class="cl" transform="translate(228.66 236.10) rotate(-45)" text-anchor="middle">IgG<tspan class="sub">pos</tspan><tspan class="rs"></tspan>/IgG<tspan class="sub">neg</tspan></text>
<text class="cl" transform="translate(413.90 498.30) rotate(-45)" text-anchor="middle">CD4<tspan class="sub">pos</tspan><tspan class="rs"></tspan>/CD4<tspan class="sub">neg</tspan></text>
<text class="cl" transform="translate(445.67 498.60) rotate(-45)" text-anchor="middle">CD8<tspan class="sub">pos</tspan><tspan class="rs"></tspan>/CD8<tspan class="sub">neg</tspan></text>
<text class="cl" transform="translate(480.34 497.10) rotate(-45)" text-anchor="middle">IgG<tspan class="sub">pos</tspan><tspan class="rs"></tspan>/IgG<tspan class="sub">neg</tspan></text>
<rect x="65.2" y="288.70" width="11.1" height="11.0" fill="#c8c8ca"/>
<text x="80.8" y="297.90" style="font-size:7.7px">n.s.</text>
<rect x="65.2" y="304.00" width="11.1" height="11.0" fill="#3aa935"/>
<text x="81.1" y="313.30" font-style="italic" style="stroke-width:0.05px">P</text>
<path d="M94.1 309.00 L89.0 310.90 L94.1 312.80" fill="none" stroke="#222" stroke-width="0.75"/>
<text x="96.2" y="313.30">.05, higher in responders</text>
<rect x="65.2" y="319.30" width="11.1" height="11.0" fill="#c40d26"/>
<text x="81.1" y="328.60" font-style="italic" style="stroke-width:0.05px">P</text>
<path d="M94.1 324.30 L89.0 326.20 L94.1 328.10" fill="none" stroke="#222" stroke-width="0.75"/>
<text x="96.2" y="328.60">.05, lower in responders</text>
<text class="pl" x="10.4" y="16.6">A</text>
<text class="pl" x="10.6" y="140.6">B</text>
<text class="pl" x="279.7" y="16.95">C</text>
<rect x="0" y="0" width="520" height="1" fill="#000"/>
<rect x="0" y="1" width="520" height="1" fill="rgba(0,0,0,0.25)"/>
<rect x="0" y="0" width="1" height="527" fill="#000"/>
<rect x="1" y="0" width="1" height="527" fill="rgba(0,0,0,0.4)"/>
<rect x="519" y="0" width="1" height="527" fill="#000"/>
<rect x="518" y="0" width="1" height="527" fill="rgba(0,0,0,0.1)"/>
<rect x="0" y="526" width="520" height="1" fill="#000"/>
<rect x="0" y="525" width="520" height="1" fill="rgba(0,0,0,0.35)"/>
</svg>
</body></html>
